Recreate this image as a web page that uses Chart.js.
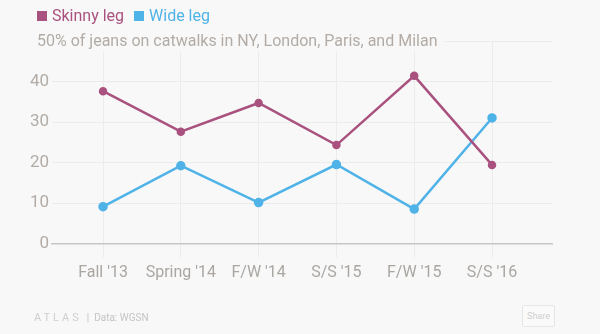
<!DOCTYPE html>
<html>
<head>
<meta charset="utf-8">
<script src="https://cdn.jsdelivr.net/npm/chart.js@4.4.0/dist/chart.umd.min.js"></script>
<style>
    html, body { margin: 0; padding: 0; background: #f8f8f8; }
    #wrap { position: relative; width: 600px; height: 334px; overflow: hidden; font-family: Roboto, "Liberation Sans", sans-serif; }
    #chart { position: absolute; left: 0; top: 0; }
    .legend { position: absolute; top: 5px; left: 37px; font-size: 16px; line-height: 22px; white-space: nowrap; }
    .legend span { display: inline-block; margin-right: 6px; }
    .legend i { display: inline-block; width: 10px; height: 10px; margin-right: 5px; vertical-align: 0px; }
    .footer { position: absolute; left: 34px; top: 311px; font-size: 10px; color: #c4c4c4; white-space: nowrap; }
    .footer .logo { letter-spacing: 3px; font-size: 11px; color: #cfcfcf; }
    .share { position: absolute; left: 522px; top: 305px; width: 31px; height: 20px; border: 1px solid #e6e6e6; border-radius: 2px; font-size: 9px; color: #cfcfcf; text-align: center; line-height: 20px; background: #fafafa; }
</style>
</head>
<body>
<div id="wrap">
    <canvas id="chart" width="600" height="334"></canvas>
    <div class="legend">
        <span style="color:#a9527f"><i style="background:#a9527f"></i>Skinny leg</span>
        <span style="color:#4fb3e8"><i style="background:#4fb3e8"></i>Wide leg</span>
    </div>
    <div class="footer"><span class="logo">ATLAS</span> &nbsp;|&nbsp; Data: WGSN</div>
    <div class="share">Share</div>
</div>
<script>
    // Chart data
    const seasons = ["Fall '13", "Spring '14", "F/W '14", "S/S '15", "F/W '15", "S/S '16"];
    const skinnyLeg = [37.6, 27.6, 34.7, 24.3, 41.4, 19.4];
    const wideLeg = [9.1, 19.2, 10.1, 19.5, 8.5, 31.0];
    const yTicks = [0, 10, 20, 30, 40, 50];
    const subtitle = "50% of jeans on catwalks in NY, London, Paris, and Milan";

    const toPoints = values => values.map((v, i) => ({ x: i, y: v }));

    // Subtitle sits on the 50 gridline, like a tick label
    const subtitlePlugin = {
        id: 'subtitle',
        afterDraw(chart) {
            const ctx = chart.ctx;
            const y = chart.scales.y.getPixelForValue(50);
            ctx.save();
            ctx.font = "16px Roboto, 'Liberation Sans', sans-serif";
            const w = ctx.measureText(subtitle).width;
            ctx.fillStyle = '#f8f8f8';
            ctx.fillRect(30, y - 10, w + 14, 20);
            ctx.fillStyle = '#b3aca6';
            ctx.textBaseline = 'middle';
            ctx.fillText(subtitle, 37, y + 1);
            ctx.restore();
        }
    };

    new Chart(document.getElementById('chart'), {
        type: 'line',
        data: {
            datasets: [{
                label: 'Skinny leg',
                data: toPoints(skinnyLeg),
                borderColor: '#a9527f',
                backgroundColor: '#a9527f',
                borderWidth: 2.5,
                pointRadius: 3,
                tension: 0
            }, {
                label: 'Wide leg',
                data: toPoints(wideLeg),
                borderColor: '#4fb3e8',
                backgroundColor: '#4fb3e8',
                borderWidth: 2.5,
                pointRadius: 3.5,
                tension: 0
            }]
        },
        options: {
            responsive: false,
            animation: false,
            layout: { padding: { top: 41, right: 48, left: 0, bottom: 0 } },
            plugins: {
                legend: { display: false },
                tooltip: { enabled: false }
            },
            scales: {
                x: {
                    type: 'linear',
                    min: -0.656,
                    max: 5.771,
                    afterBuildTicks: scale => { scale.ticks = seasons.map((_, i) => ({ value: i })); },
                    afterFit: scale => { scale.height = 90.5; },
                    grid: { color: '#ececec', tickLength: 14, tickColor: '#ececec' },
                    border: { display: true, color: '#c6c6c6', width: 1.5 },
                    ticks: {
                        callback: value => seasons[value],
                        color: '#aaa6a2',
                        padding: 6,
                        maxRotation: 0,
                        autoSkip: false,
                        font: { family: "Roboto, 'Liberation Sans', sans-serif", size: 16 }
                    }
                },
                y: {
                    min: 0,
                    max: 50,
                    afterBuildTicks: scale => { scale.ticks = yTicks.map(v => ({ value: v })); },
                    afterFit: scale => { scale.width = 52; },
                    grid: { color: '#ececec', drawTicks: false },
                    border: { display: false },
                    ticks: {
                        callback: value => value === 50 ? '' : value,
                        color: '#b3aca6',
                        padding: 3,
                        font: { family: "Roboto, 'Liberation Sans', sans-serif", size: 17 }
                    }
                }
            }
        },
        plugins: [subtitlePlugin]
    });
</script>
</body>
</html>
